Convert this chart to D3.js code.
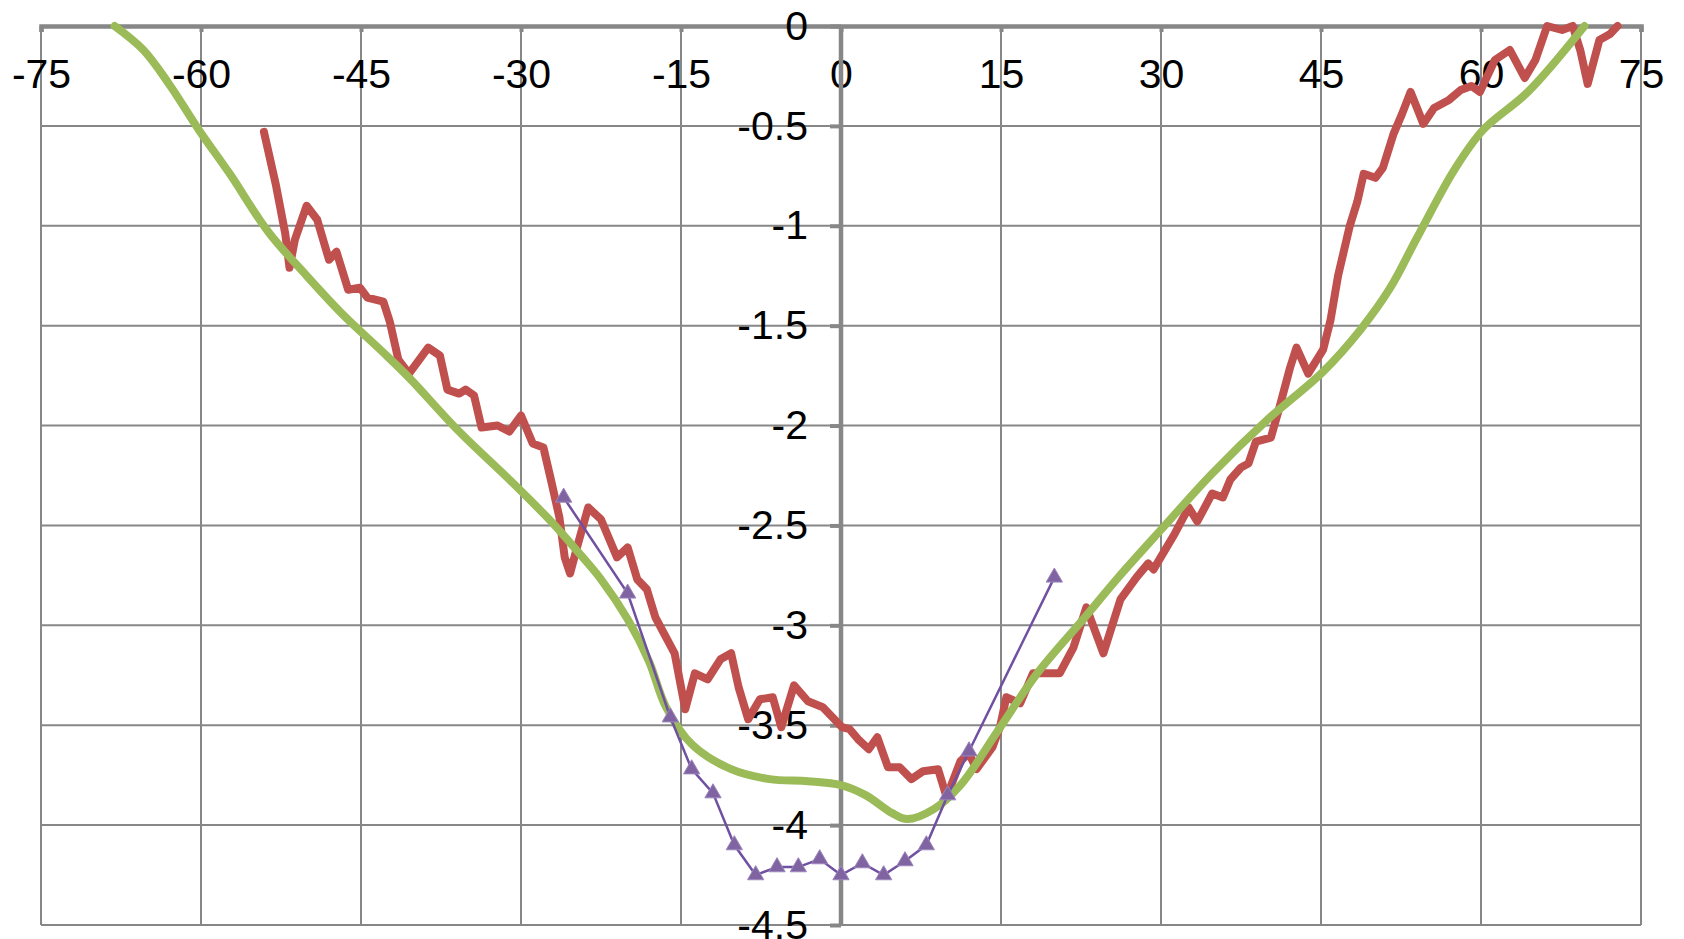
<!DOCTYPE html>
<html>
<head>
<meta charset="utf-8">
<script src="https://cdn.jsdelivr.net/npm/d3@7"></script>
<style>
  html, body { margin: 0; padding: 0; background: #fff; }
  svg { display: block; font-family: "Liberation Sans", Arial, sans-serif; }
</style>
</head>
<body>
<div id="chart"></div>
<script>
// ticks
const xTicks = [-75, -60, -45, -30, -15, 0, 15, 30, 45, 60, 75];
const yTicks = [0, -0.5, -1, -1.5, -2, -2.5, -3, -3.5, -4, -4.5];

// red series (jagged)
const redSeries = [
  [-54.1, -0.53], [-53.0, -0.79], [-52.1, -1.04], [-51.7, -1.21], [-51.2, -1.07], [-50.1, -0.90],
  [-49.1, -0.97], [-48.0, -1.17], [-47.3, -1.13], [-46.2, -1.32], [-45.1, -1.31], [-44.4, -1.36],
  [-42.9, -1.38], [-42.3, -1.48], [-41.5, -1.67], [-40.5, -1.74], [-38.7, -1.61], [-37.6, -1.65],
  [-36.9, -1.82], [-35.8, -1.84], [-35.2, -1.82], [-34.4, -1.85], [-33.7, -2.01], [-32.2, -2.00],
  [-31.1, -2.03], [-30.0, -1.95], [-28.9, -2.09], [-27.9, -2.11], [-27.2, -2.27], [-26.4, -2.46],
  [-25.9, -2.66], [-25.4, -2.74], [-24.7, -2.60], [-23.7, -2.41], [-22.5, -2.47], [-21.0, -2.66],
  [-20.0, -2.61], [-19.1, -2.77], [-18.2, -2.82], [-17.4, -2.96], [-16.4, -3.06], [-15.6, -3.14],
  [-14.6, -3.42], [-13.7, -3.24], [-12.5, -3.27], [-11.3, -3.17], [-10.3, -3.14], [-9.6, -3.31],
  [-8.7, -3.47], [-7.6, -3.37], [-6.4, -3.36], [-5.6, -3.51], [-4.4, -3.30], [-3.1, -3.38],
  [-1.7, -3.41], [0.1, -3.51], [0.8, -3.52], [1.6, -3.57], [2.6, -3.62], [3.4, -3.56],
  [4.4, -3.71], [5.5, -3.71], [6.6, -3.77], [7.7, -3.73], [9.1, -3.72], [9.9, -3.86],
  [11.2, -3.68], [12.0, -3.64], [12.7, -3.72], [14.2, -3.61], [14.9, -3.51], [15.5, -3.36],
  [16.8, -3.39], [18.0, -3.24], [19.3, -3.24], [20.5, -3.24], [21.8, -3.11], [23.0, -2.91],
  [24.6, -3.14], [26.2, -2.87], [27.7, -2.76], [28.8, -2.69], [29.3, -2.72], [31.3, -2.54],
  [32.6, -2.41], [33.4, -2.48], [34.8, -2.34], [35.8, -2.36], [36.5, -2.27], [37.5, -2.21],
  [38.2, -2.19], [38.9, -2.08], [40.3, -2.06], [41.1, -1.91], [42.1, -1.71], [42.7, -1.61],
  [43.8, -1.74], [45.2, -1.62], [45.9, -1.47], [46.6, -1.25], [47.7, -1.00], [48.4, -0.88],
  [49.0, -0.74], [50.1, -0.76], [50.8, -0.71], [51.8, -0.54], [52.6, -0.44], [53.4, -0.33],
  [54.6, -0.49], [55.6, -0.41], [57.0, -0.37], [58.1, -0.32], [59.1, -0.30], [59.9, -0.33],
  [61.3, -0.17], [62.7, -0.12], [64.1, -0.26], [65.1, -0.17], [66.2, 0], [67.6, -0.02],
  [68.6, 0], [69.3, -0.12], [70.0, -0.29], [71.1, -0.07], [72.1, -0.04], [72.8, 0]
];

// green series (smooth)
const greenSeries = [
  [-68.1, 0], [-65.4, -0.12], [-63.0, -0.29], [-60.2, -0.52], [-57.3, -0.74], [-53.7, -1.03],
  [-50.1, -1.25], [-46.6, -1.45], [-43.0, -1.63], [-40.5, -1.76], [-35.8, -2.03], [-31.1, -2.27],
  [-27.0, -2.49], [-24.7, -2.63], [-22.5, -2.77], [-20.0, -2.97], [-18.0, -3.18], [-16.4, -3.41],
  [-13.9, -3.60], [-10.3, -3.72], [-6.7, -3.77], [-3.1, -3.78], [0, -3.80], [2.3, -3.85],
  [4.8, -3.94], [6.2, -3.97], [8.7, -3.92], [11.2, -3.80], [14.8, -3.52], [18.4, -3.24],
  [22.7, -2.97], [26.0, -2.76], [30.2, -2.51], [34.8, -2.24], [40.0, -1.97], [45.2, -1.73],
  [48.7, -1.52], [51.5, -1.31], [54.0, -1.06], [57.5, -0.72], [60.2, -0.52], [64.4, -0.33],
  [69.7, 0]
];

// purple series (with triangle markers)
const purpleX = [-26, -20, -16, -14, -12, -10, -8, -6, -4, -2, 0, 2, 4, 6, 8, 10, 12, 20];
const purpleY = [-2.36, -2.84, -3.46, -3.72, -3.84, -4.10, -4.25, -4.21, -4.21, -4.17, -4.25, -4.19, -4.25, -4.18, -4.10, -3.85, -3.63, -2.76];

const width = 1684;
const height = 939;
const gridColor = '#878787';

const svg = d3.select('#chart').append('svg')
  .attr('width', width)
  .attr('height', height);

const x = d3.scaleLinear().domain([-75, 75]).range([41, 1641]);
const y = d3.scaleLinear().domain([0, -4.5]).range([26, 925]);

// grid
const grid = svg.append('g').attr('stroke', gridColor).attr('stroke-width', 2);
grid.selectAll('line.v')
  .data(xTicks)
  .join('line')
  .attr('class', 'v')
  .attr('x1', d => x(d)).attr('x2', d => x(d))
  .attr('y1', y(0)).attr('y2', y(-4.5));
grid.selectAll('line.h')
  .data(yTicks.filter(d => d !== 0))
  .join('line')
  .attr('class', 'h')
  .attr('x1', x(-75)).attr('x2', x(75))
  .attr('y1', d => y(d)).attr('y2', d => y(d));

// axes (x at y=0 on top, y at x=0) -- plain hyphen, not the unicode minus
const xAxis = svg.append('g')
  .attr('transform', `translate(0,${y(0)})`)
  .call(d3.axisBottom(x).tickValues(xTicks).tickSize(6).tickPadding(27).tickFormat(d => String(d)));

const yAxis = svg.append('g')
  .attr('transform', `translate(${x(0)},0)`)
  .call(d3.axisLeft(y).tickValues(yTicks).tickSize(11).tickPadding(22).tickFormat(d => String(d)));

for (const ax of [xAxis, yAxis]) {
  ax.select('.domain').attr('stroke', gridColor).attr('stroke-width', 4.5);
  ax.selectAll('.tick line').attr('stroke', gridColor).attr('stroke-width', 4);
  ax.selectAll('.tick text')
    .attr('fill', '#000')
    .style('font-size', '41px')
    .style('font-family', '"Liberation Sans", Arial, sans-serif');
}
yAxis.select('.domain').attr('d', `M0,${y(0)}V${y(-4.5)}`);

// series
const plot = svg.append('g');

plot.append('path')
  .datum(redSeries)
  .attr('fill', 'none')
  .attr('stroke', '#C0504D')
  .attr('stroke-width', 8)
  .attr('stroke-linejoin', 'round')
  .attr('stroke-linecap', 'round')
  .attr('d', d3.line().x(d => x(d[0])).y(d => y(d[1])));

plot.append('path')
  .datum(greenSeries)
  .attr('fill', 'none')
  .attr('stroke', '#9BBB59')
  .attr('stroke-width', 8)
  .attr('stroke-linejoin', 'round')
  .attr('stroke-linecap', 'round')
  .attr('d', d3.line().x(d => x(d[0])).y(d => y(d[1])).curve(d3.curveCatmullRom.alpha(0.5)));

const purple = purpleX.map((d, i) => [d, purpleY[i]]);
plot.append('path')
  .datum(purple)
  .attr('fill', 'none')
  .attr('stroke', '#7050A0')
  .attr('stroke-width', 2.5)
  .attr('d', d3.line().x(d => x(d[0])).y(d => y(d[1])));

plot.selectAll('path.marker')
  .data(purple)
  .join('path')
  .attr('class', 'marker')
  .attr('transform', d => `translate(${x(d[0])},${y(d[1])})`)
  .attr('d', d3.symbol(d3.symbolTriangle, 115))
  .attr('fill', '#8064A2')
  .attr('stroke', '#9C86BC')
  .attr('stroke-width', 1);
</script>
</body>
</html>
